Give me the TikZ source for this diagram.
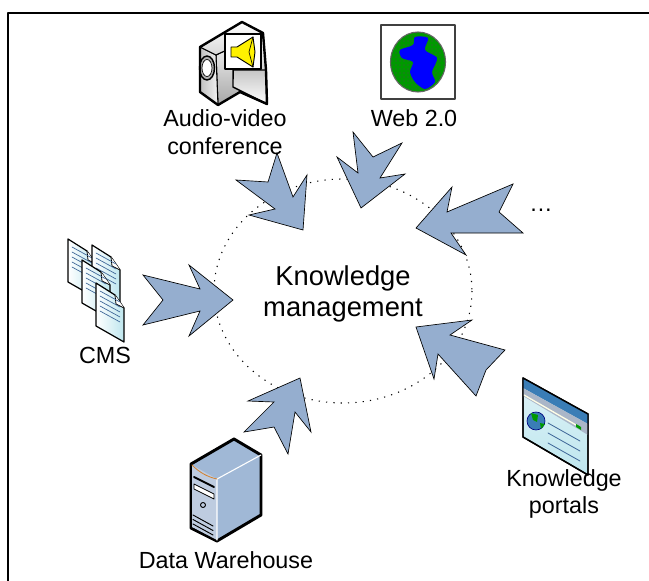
\documentclass[tikz,border=0pt]{standalone}
\usepackage{fontspec}
\setmainfont{Liberation Sans}
\usetikzlibrary{patterns}
\definecolor{arrowblue}{RGB}{149,174,207}
\definecolor{doccyan}{RGB}{190,230,238}
\definecolor{doclines}{RGB}{60,100,150}
\definecolor{towerblue}{RGB}{160,184,214}
\definecolor{towerfront}{RGB}{190,204,224}
\definecolor{portalblue}{RGB}{58,125,182}
\definecolor{portalgray}{RGB}{170,182,200}
\tikzset{
  bigarrow/.style={draw=black,line width=0.5pt,fill=arrowblue,line join=miter},
  label/.style={align=center,font=\fontsize{17.5}{20.6}\selectfont},
  bigtext/.style={align=center,font=\fontsize{20.5}{23.2}\selectfont},
  iconline/.style={draw=black,line width=1.8pt,line join=round}
}
\begin{document}
\begin{tikzpicture}[line cap=round,line join=round,x=0.75pt,y=-0.75pt]
\useasboundingbox (0,0) rectangle (649,581);
\draw [line width=1.7pt,line cap=butt] (8,581)--(8,13)--(649,13);
\draw [line width=0.8pt,line cap=butt,dash pattern=on 0.9pt off 4.6pt] (343,291) ellipse [x radius=129,y radius=112];
\node[bigtext] (km) at (343,294) {Knowledge\\management};
% arrows
\draw [bigarrow] (277,153)--(293,197)--(307,175)--(303,230)--(249,215)--(275,209)--(236,180)--(268,182)--cycle;
\draw [bigarrow] (353,132)--(373,157)--(402,143)--(380,178)--(405,174)--(361,208)--(337,157)--(358,173)--cycle;
\draw [bigarrow] (416,228)--(452,187)--(447,212)--(513,184)--(499,212)--(523,233)--(451,233)--(466,255)--cycle;
\draw [bigarrow] (233,300)--(189,265)--(200,289)--(143,275)--(163,300)--(143,325)--(200,311)--(189,336)--cycle;
\draw [bigarrow] (300,378)--(311,432)--(295,412)--(288,454)--(274,427)--(244,432)--(274,402)--(248,401)--cycle;
\draw [bigarrow] (416,327)--(472,320)--(450,335)--(505,350)--(486,370)--(476,396)--(438,354)--(434,379)--cycle;
% camera
\draw [line width=0.8pt,top color=white,bottom color=gray!70] (216,55)--(263,33)--(266,70)--(240,92)--(218,105)--cycle;
\draw [line width=0.8pt,left color=gray!50,right color=gray!10] (200,47)--(216,55)--(218,105)--(200,92)--cycle;
\draw [line width=0.8pt,top color=white,bottom color=gray!30] (200,47)--(242,22)--(263,33)--(216,55)--cycle;
\draw [line width=1.1pt,top color=gray!45,bottom color=white] (233,87)--(233,70)--(266,70)--(267,104)--cycle;
\draw [line width=1.1pt,fill=gray!60] (207,68) ellipse [x radius=7.5,y radius=12];
\draw [line width=0.5pt,fill=white] (207,68) ellipse [x radius=5,y radius=8.5];
\draw [iconline] (200,47)--(242,22)--(263,33)--(266,70)--(267,104)--(240,92)--(218,105)--(200,92)--cycle;
\draw (233,69)--(233,79);
\draw [line width=0.8pt,fill=white] (225,34) rectangle (261,69);
\draw [line width=0.7pt,fill=yellow] (231,47)--(237,47)--(253,37)--(255,52)--(253,67)--(237,57)--(231,57)--cycle;
\draw [line width=0.5pt] (253,37)--(249,52)--(253,67);
\node[label] (av) at (225,132) {Audio-video\\conference};
% web
\draw [line width=0.9pt,draw=black!75,fill=white] (381,25) rectangle (455,99);
\draw [line width=0.8pt,draw=black!60,fill=green!60!black] (418,62) ellipse [x radius=27.5,y radius=30];
\fill [pattern=dots,pattern color=black!70] (418,62) ellipse [x radius=27.5,y radius=30];
\fill [blue] plot[smooth cycle] coordinates {(415,37) (428,38) (425,50) (437,58) (432,72) (435,82) (425,89) (415,82) (410,72) (413,62) (402,58) (400,50) (413,45)};
\node[label] (web) at (414,118) {Web 2.0};
\node[label] (more) at (541,210) {\ldots};
% cms
\foreach \dx/\dy in {-28/-44,-4/-38,-14/-23,0/0} {
\begin{scope}[shift={(\dx,\dy)}]
\draw [line width=0.9pt,left color=white,right color=doccyan] (96,283)--(115,295)--(124,308)--(124,342)--(96,326)--cycle;
\draw [line width=0.6pt,fill=white] (115,295)--(116,304)--(124,308);
\foreach \k in {0,5,10,15,20}
  \draw [doclines,line width=0.5pt] (100,{291+\k})--(120,{302+\k});
\end{scope}
}
\node[label] (cms) at (105,355) {CMS};
% server
\draw [iconline,line width=2.2pt,fill=towerblue] (234,439)--(261,455)--(261,515)--(217,541)--(191,528)--(191,464)--cycle;
\fill [towerfront] (192,465)--(217,479)--(217,540)--(192,527)--cycle;
\draw [white,line width=0.8pt] (261,455)--(217,479)--(217,540);
\draw [brown!70!orange,line width=0.6pt] (192,465) .. controls (200,473) and (208,477) .. (217,479);
\draw [line width=1.4pt] (194,477)--(214,487);
\draw [line width=0.6pt,fill=white] (194,484)--(214,494)--(214,499)--(194,489)--cycle;
\draw [line width=0.7pt] (203,505) circle [radius=2.5];
\foreach \k in {0,4.5,9,13.5}
  \draw [line width=0.7pt] (193,{515+\k})--(213,{526+\k});
\node[label] (dw) at (226,560) {Data Warehouse};
% portal
\draw [line width=1pt,top color=doccyan!50,bottom color=doccyan] (523,378)--(588,414)--(588,475)--(523,437)--cycle;
\fill [portalblue] (523,378)--(588,414)--(588,424)--(523,388)--cycle;
\fill [portalgray] (523,388)--(588,424)--(588,435)--(523,396)--cycle;
\draw [white!90!yellow,line width=1pt] (524,395)--(576,425);
\fill [green!60!black] (576,424)--(581,427)--(581,430)--(576,427)--cycle;
\draw [line width=1.1pt] (523,378)--(588,414)--(588,475)--(523,437)--cycle;
\draw [line width=0.5pt,draw=blue!50!black,fill=portalblue] (536,421) circle [radius=9];
\fill [green!60!black] (531,413)--(538,415)--(537,422)--(533,420)--cycle (540,423)--(545,424)--(541,429)--cycle;
\foreach \k in {0,10,20}
  \draw [doclines,line width=0.6pt] (548,{423+\k})--(580,{441+\k});
\node[label] (kp) at (564,494) {Knowledge\\portals};
\end{tikzpicture}
\end{document}
